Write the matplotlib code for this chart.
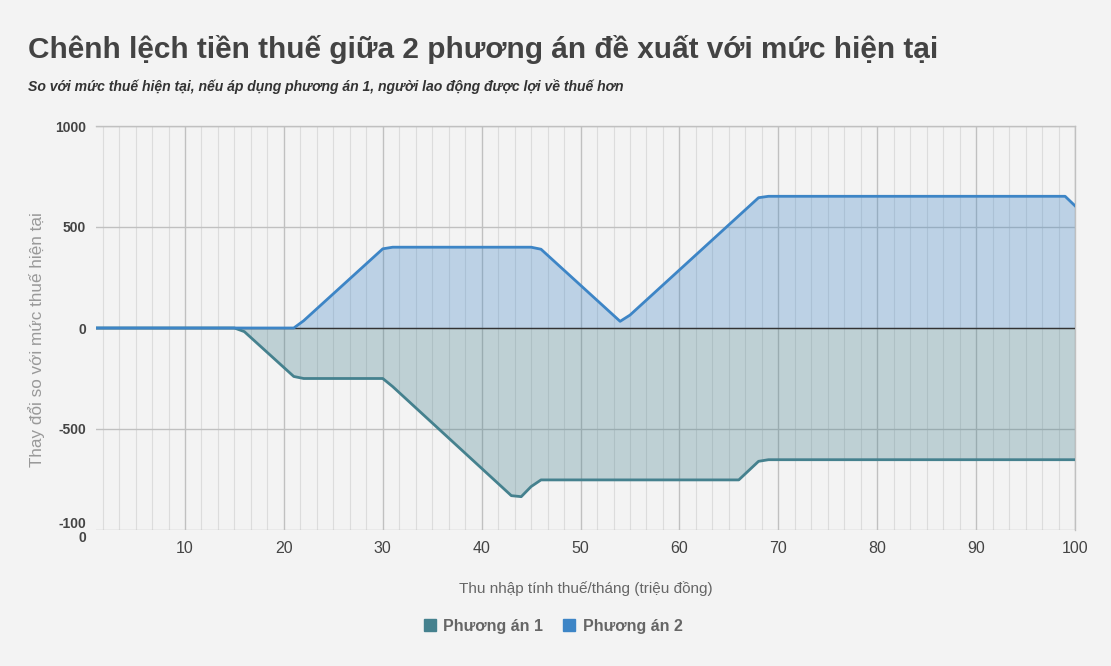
import matplotlib
matplotlib.use("Agg")
import matplotlib.pyplot as plt
from matplotlib.ticker import MultipleLocator, FixedLocator
from matplotlib.patches import Patch

# Thu nhập tính thuế (triệu đồng/tháng) và chênh lệch thuế (nghìn đồng)
x_pa1 = [1, 15, 16, 21, 22, 30, 31, 43, 44, 45, 46, 66, 68, 69, 100]
y_pa1 = [0, 0, -18, -240, -250, -250, -290, -830, -835, -785, -752, -752,
         -660, -652, -652]

x_pa2 = [1, 21, 22, 30, 31, 45, 46, 54, 55, 68, 69, 99, 100]
y_pa2 = [0, 0, 36, 392, 400, 400, 390, 33, 64, 645, 652, 652, 605]

series_names = ["Phương án 1", "Phương án 2"]
series_colors = ["#45818e", "#3d85c6"]

x_ticks = [10, 20, 30, 40, 50, 60, 70, 80, 90, 100]
y_ticks = [-1000, -500, 0, 500, 1000]
y_ticklabels = ["-100\n0", "-500", "0", "500", "1000"]

title = "Chênh lệch tiền thuế giữa 2 phương án đề xuất với mức hiện tại"
subtitle = ("So với mức thuế hiện tại, nếu áp dụng phương án 1, "
            "người lao động được lợi về thuế hơn")

plt.rcParams["font.family"] = ["Liberation Sans", "DejaVu Sans"]
bg = "#f3f3f3"

fig = plt.figure(figsize=(11.11, 6.66), dpi=100, facecolor=bg)
ax = fig.add_axes([96 / 1111, 1 - 530 / 666, (1075 - 96) / 1111,
                   (530 - 126) / 666])
ax.set_facecolor(bg)

# gridlines sit under the semi-transparent areas
ax.set_axisbelow(True)
ax.grid(which="major", axis="both", color="#c0c0c0", lw=1, zorder=0.5)
ax.grid(which="minor", axis="x", color="#dcdcdc", lw=0.8, zorder=0.5)

for xs, ys, c in [(x_pa1, y_pa1, series_colors[0]),
                  (x_pa2, y_pa2, series_colors[1])]:
    ax.fill_between(xs, ys, 0, color=c, alpha=0.3, lw=0, zorder=1)
for xs, ys, c in [(x_pa1, y_pa1, series_colors[0]),
                  (x_pa2, y_pa2, series_colors[1])]:
    ax.plot(xs, ys, color=c, lw=2, zorder=4, solid_joinstyle="round")

ax.axhline(0, color="#333333", lw=1, zorder=3.5)

ax.set_xlim(1, 100)
ax.set_ylim(-1000, 1000)
ax.xaxis.set_major_locator(FixedLocator(x_ticks))
ax.xaxis.set_minor_locator(MultipleLocator(10 / 6))
ax.yaxis.set_major_locator(FixedLocator(y_ticks))
ax.set_yticklabels(y_ticklabels)

for s in ["left", "bottom"]:
    ax.spines[s].set_visible(False)
for s in ["top", "right"]:
    ax.spines[s].set_color("#c0c0c0")
    ax.spines[s].set_linewidth(1)

ax.tick_params(which="both", length=0)
ax.tick_params(axis="x", pad=8, labelsize=11.5, labelcolor="#444444")
ax.tick_params(axis="y", pad=7, labelsize=10, labelcolor="#444444")
for lbl in ax.get_yticklabels():
    lbl.set_fontweight("bold")
    lbl.set_linespacing(1.0)

ax.set_xlabel("Thu nhập tính thuế/tháng (triệu đồng)", fontsize=11,
              color="#666666", labelpad=18)
fig.text(37 / 1111, 1 - 340 / 666, "Thay đổi so với mức thuế hiện tại",
         rotation=90, ha="center", va="center", fontsize=12.3,
         color="#999999")

fig.text(28 / 1111, 1 - 50 / 666, title, fontsize=21.4, fontweight="bold",
         color="#434343", ha="left", va="center")
fig.text(28 / 1111, 1 - 87 / 666, subtitle, fontsize=10.1,
         fontweight="bold", fontstyle="italic", color="#333333",
         ha="left", va="center")

handles = [Patch(facecolor=c, edgecolor=c) for c in series_colors]
leg = fig.legend(handles, series_names, loc="center",
                 bbox_to_anchor=(553 / 1111, 1 - 626 / 666), ncol=2,
                 frameon=False, handlelength=0.8, handleheight=0.8,
                 handletextpad=0.45, columnspacing=1.2, fontsize=11.5)
for t in leg.get_texts():
    t.set_color("#666666")
    t.set_fontweight("bold")

fig.savefig("out.png", dpi=100, facecolor=bg)
